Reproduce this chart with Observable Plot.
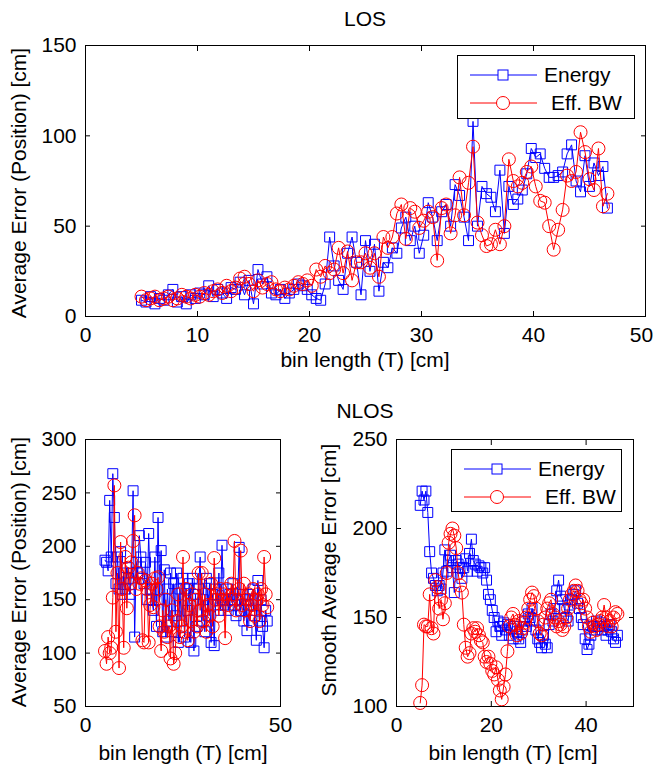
<!DOCTYPE html>
<html><head><meta charset="utf-8">
<script src="https://cdn.jsdelivr.net/npm/d3@7"></script>
<script src="https://cdn.jsdelivr.net/npm/@observablehq/plot@0.6"></script>
<style>
body{margin:0;background:#fff;}
#root{position:relative;width:654px;height:768px;font-family:"Liberation Sans",Arial,sans-serif;overflow:hidden;background:#fff;}
.pl{position:absolute;}
.lbl{position:absolute;font-size:21px;white-space:nowrap;transform:translate(-50%,-50%);color:#000;line-height:1;}
.rot{transform:translate(-50%,-50%) rotate(-90deg);}
</style></head><body><div id="root"></div>
<script>
const binLength = [5.0,5.4,5.8,6.2,6.6,7.0,7.4,7.8,8.2,8.6,
9.0,9.4,9.8,10.2,10.6,11.0,11.4,11.8,12.2,12.6,
13.0,13.4,13.8,14.2,14.6,15.0,15.4,15.8,16.2,16.6,
17.0,17.4,17.8,18.2,18.6,19.0,19.4,19.8,20.2,20.6,
21.0,21.4,21.8,22.2,22.6,23.0,23.4,23.8,24.2,24.6,
25.0,25.4,25.8,26.2,26.6,27.0,27.4,27.8,28.2,28.6,
29.0,29.4,29.8,30.2,30.6,31.0,31.4,31.8,32.2,32.6,
33.0,33.4,33.8,34.2,34.6,35.0,35.4,35.8,36.2,36.6,
37.0,37.4,37.8,38.2,38.6,39.0,39.4,39.8,40.2,40.6,
41.0,41.4,41.8,42.2,42.6,43.0,43.4,43.8,44.2,44.6,
45.0,45.4,45.8,46.2,46.6];

const losEnergy = [9,8,11,7,10,9,12,15,8,11,
7,12,10,13,12,17,11,15,13,10,
16,15,19,12,20,7,26,18,22,13,
12,15,10,13,15,18,17,15,12,10,
9,18,44,28,20,15,35,44,30,12,
42,25,40,14,30,27,38,35,49,55,
42,50,35,45,63,55,42,58,62,50,
73,67,55,42,108,50,72,68,66,58,
81,46,72,62,65,70,79,93,88,90,
82,77,77,78,80,90,95,75,69,89,
72,85,78,83,60];
const losEffBW = [11,9,10,11,9,10,11,9,10,12,
11,10,12,11,13,12,14,15,13,17,
14,16,21,22,18,14,20,16,18,19,
15,14,16,15,17,19,18,20,17,26,
22,28,24,26,38,24,36,20,30,30,
35,27,35,22,44,38,44,57,62,43,
60,58,49,53,58,55,31,60,62,46,
56,77,56,74,94,52,45,39,40,48,
40,50,87,75,72,74,80,83,72,64,
63,50,37,48,59,78,75,80,102,91,
76,70,93,61,68];

const nlosEnergy = [187,185,177,243,190,268,227,165,190,160,
195,155,175,160,180,170,155,175,252,115,
185,175,210,190,170,165,185,150,212,160,
150,140,190,125,227,150,196,120,178,115,
160,130,175,120,165,135,175,110,160,130,
170,115,160,140,165,110,170,102,155,125,
160,190,130,150,120,170,135,165,110,155,
107,160,145,175,140,201,150,145,160,140,
155,150,165,145,135,150,199,140,155,130,
150,121,145,155,140,160,135,112,168,130,
150,125,105,140,130];
const nlosEffBW = [102,90,115,100,105,152,257,120,175,86,
204,160,105,190,142,180,165,185,205,229,
160,175,165,170,112,110,168,160,110,145,
165,143,170,160,171,125,102,140,120,150,
115,125,95,140,90,100,130,155,115,125,
190,120,160,112,145,130,155,120,150,125,
175,140,175,130,155,120,145,135,165,125,
189,150,155,135,160,150,155,114,160,145,
150,165,155,205,140,150,160,196,145,165,
140,150,155,130,145,160,135,150,155,130,
160,145,190,155,143];

const smoothEnergy = [213,221,216,221,209,187,175,172,168,165,
168,166,175,188,176,182,185,178,164,182,
180,178,172,178,183,176,186,194,182,180,
176,179,178,175,178,171,163,160,154,150,
142,148,145,140,147,143,146,140,144,138,
145,142,138,136,143,148,145,152,150,155,
148,143,138,136,133,140,135,133,146,152,
148,155,165,171,162,160,155,150,148,157,
160,163,165,158,155,150,146,138,132,135,
140,145,143,148,145,147,143,145,140,143,
146,142,138,136,140];
const smoothEffBW = [102,112,146,145,145,163,144,141,171,167,
155,160,149,158,175,192,197,200,196,189,
175,168,164,146,133,128,130,141,144,142,
144,140,137,136,128,125,128,124,120,118,
122,115,109,104,111,118,131,145,150,152,
146,140,148,141,144,147,150,155,160,164,
162,155,148,141,140,146,150,155,158,160,
152,150,145,148,146,143,145,150,155,160,
163,165,168,165,160,158,160,155,150,145,
142,147,145,143,146,148,150,157,150,145,
148,145,150,153,152];

const seriesNames = ["Energy", "Eff. BW"];
const losXTicks = [0,10,20,30,40,50];
const losYTicks = [0,50,100,150];
const nlosXTicks = [0,50];
const nlosYTicks = [50,100,150,200,250,300];
const smoothXTicks = [0,20,40];
const smoothYTicks = [100,150,200,250];

const BLUE = "#0000ff", RED = "#ff0000";
const FONT = '"Liberation Sans", Arial, sans-serif';
const root = document.getElementById("root");

function panel({e, b, yDomain, xTicks, yTicks, width, height, mt, mb, ml, mr, left, top, edgeTick}) {
  const dE = binLength.map((x, i) => ({x, y: e[i]}));
  const dB = binLength.map((x, i) => ({x, y: b[i]}));
  const inner = edgeTick == null ? xTicks : xTicks.filter(t => t !== edgeTick);
  const marks = [
    Plot.line(dE, {x: "x", y: "y", stroke: BLUE, strokeWidth: 1}),
    Plot.dot(dE, {x: "x", y: "y", symbol: "square", r: 5.6, stroke: BLUE, fill: "none", strokeWidth: 1}),
    Plot.line(dB, {x: "x", y: "y", stroke: RED, strokeWidth: 1}),
    Plot.dot(dB, {x: "x", y: "y", symbol: "circle", r: 6.5, stroke: RED, fill: "none", strokeWidth: 1}),
    Plot.frame({stroke: "black", strokeWidth: 1}),
    Plot.axisX({ticks: xTicks, anchor: "bottom", tickSize: -5, text: null, label: null}),
    Plot.axisX({ticks: xTicks, anchor: "top", tickSize: -5, text: null, label: null}),
    Plot.axisY({ticks: yTicks, anchor: "left", tickSize: -5, text: null, label: null}),
    Plot.axisY({ticks: yTicks, anchor: "right", tickSize: -5, text: null, label: null}),
    Plot.axisX({ticks: inner, anchor: "bottom", tickSize: 0, tickPadding: 11, label: null, tickFormat: d => String(d)}),
    Plot.axisY({ticks: yTicks, anchor: "left", tickSize: 0, tickPadding: 9, label: null, tickFormat: d => String(d)})
  ];
  if (edgeTick != null) {
    marks.push(Plot.axisX({ticks: [edgeTick], anchor: "bottom", tickSize: 0, tickPadding: 11, label: null, dx: -4, tickFormat: d => String(d)}));
  }
  const p = Plot.plot({
    width, height, marginTop: mt, marginBottom: mb, marginLeft: ml, marginRight: mr,
    style: {fontSize: "21px", fontFamily: FONT, background: "transparent", color: "black", overflow: "visible"},
    x: {domain: [0, 50]},
    y: {domain: yDomain},
    marks
  });
  p.classList.add("pl");
  p.style.left = left + "px";
  p.style.top = top + "px";
  root.appendChild(p);
}

function label(text, cx, cy, rot) {
  const d = document.createElement("div");
  d.className = "lbl" + (rot ? " rot" : "");
  d.textContent = text;
  d.style.left = cx + "px";
  d.style.top = cy + "px";
  root.appendChild(d);
}

function legend(left, top, w, h) {
  const svg = d3.select(root).append("svg")
    .attr("class", "pl").style("left", left + "px").style("top", top + "px")
    .attr("width", w).attr("height", h).style("overflow", "visible");
  svg.append("rect").attr("x", 0.5).attr("y", 0.5).attr("width", w - 1).attr("height", h - 1)
    .attr("fill", "white").attr("stroke", "black");
  const rows = [{name: seriesNames[0], c: BLUE, sym: "square", tx: 87, y: 20},
                {name: seriesNames[1], c: RED, sym: "circle", tx: 94, y: 48}];
  for (const r of rows) {
    svg.append("line").attr("x1", 13).attr("x2", 80).attr("y1", r.y).attr("y2", r.y).attr("stroke", r.c);
    if (r.sym === "square") svg.append("rect").attr("x", 41).attr("y", r.y - 5).attr("width", 10).attr("height", 10).attr("fill", "white").attr("stroke", r.c);
    else svg.append("circle").attr("cx", 46).attr("cy", r.y).attr("r", 6.5).attr("fill", "white").attr("stroke", r.c);
    svg.append("text").attr("x", r.tx).attr("y", r.y).attr("dy", "0.35em")
      .style("font-family", FONT).style("font-size", "21px").text(r.name);
  }
}

panel({e: losEnergy, b: losEffBW, yDomain: [0, 150], xTicks: losXTicks, yTicks: losYTicks,
  width: 654, height: 370, mt: 45, mb: 54, ml: 85, mr: 9, left: 0, top: 0, edgeTick: 50});
panel({e: nlosEnergy, b: nlosEffBW, yDomain: [50, 300], xTicks: nlosXTicks, yTicks: nlosYTicks,
  width: 300, height: 368, mt: 39, mb: 62, ml: 85, mr: 20, left: 0, top: 400});
panel({e: smoothEnergy, b: smoothEffBW, yDomain: [100, 250], xTicks: smoothXTicks, yTicks: smoothYTicks,
  width: 344, height: 368, mt: 39, mb: 62, ml: 86, mr: 21, left: 310, top: 400});

legend(457, 55, 178, 64);
legend(451, 449, 171, 63);

label("LOS", 365, 18, false);
label("NLOS", 365, 410, false);
label("bin length (T) [cm]", 365, 359, false);
label("bin length (T) [cm]", 183, 752, false);
label("bin length (T) [cm]", 513, 752, false);
label("Average Error (Position) [cm]", 18, 183, true);
label("Average Error (Position) [cm]", 18, 572, true);
label("Smooth Average Error [cm]", 328, 570, true);
</script></body></html>
